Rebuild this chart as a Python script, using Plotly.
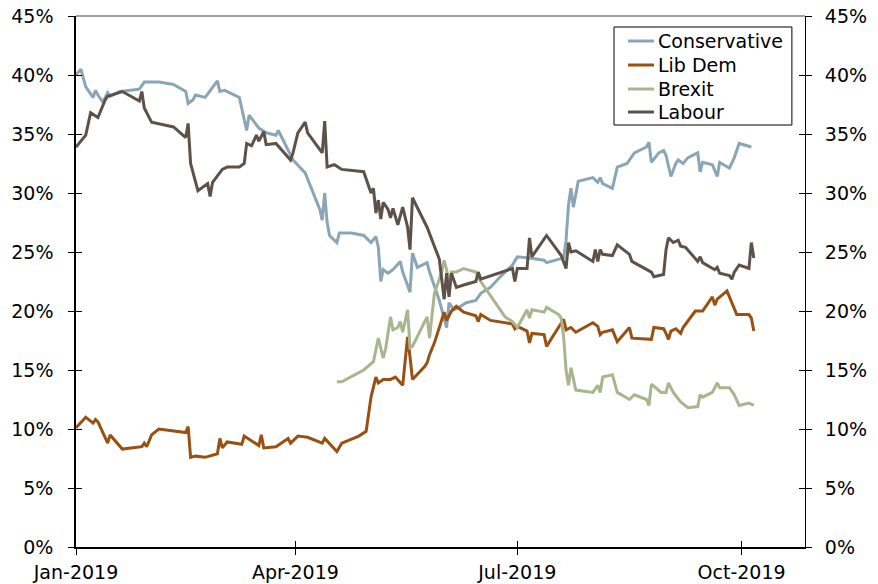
import pandas as pd
import plotly.graph_objects as go

START = "2019-01-01"

# day offsets from 1 Jan 2019, values in %
con_days = [0, 2, 4, 7, 8, 9, 11, 13, 14, 18, 26, 28, 34, 40, 45, 46, 48, 49, 53, 58, 59, 61, 67, 69, 70, 71, 75, 78, 82, 83,
            89, 94, 100, 101, 102, 103, 104, 107, 108, 113, 118, 121, 123, 124, 125, 126, 128, 130, 133, 134, 137, 138, 140,
            144, 145, 149, 152, 153, 155, 157, 160, 164, 166, 170, 174, 179, 181, 186, 192, 193, 200, 201, 202, 203, 204, 206,
            212, 214, 215, 216, 220, 222, 226, 229, 234, 235, 236, 239, 241, 242, 244, 246, 247, 249, 251, 255, 256, 257, 261,
            263, 264, 268, 270, 272, 277]
con_vals = [40.0, 40.5, 39.0, 38.1, 38.7, 38.3, 37.7, 38.5, 38.2, 38.6, 38.8, 39.4, 39.4, 39.2, 38.6, 37.6, 37.9, 38.3, 38.1,
            39.5, 38.6, 38.7, 38.1, 36.4, 35.3, 36.6, 35.5, 35.1, 34.9, 35.3,
            32.8, 31.7, 28.6, 27.7, 30.0, 27.5, 26.4, 25.8, 26.6, 26.6, 26.4, 25.8, 26.3, 25.4, 22.5, 23.5, 23.2, 23.5, 24.2,
            23.3, 21.6, 24.9, 23.7,
            24.1, 23.3, 20.9, 18.6, 20.7, 20.1, 20.3, 20.7, 20.9, 21.5, 22.0, 22.9, 23.9, 24.6, 24.5, 24.3, 24.1, 24.5, 26.0,
            29.0, 30.4, 28.8, 31.0,
            31.3, 30.9, 31.3, 30.8, 30.4, 32.2, 32.5, 33.4, 33.9, 34.3, 32.6, 33.4, 33.6, 33.2, 31.4, 32.5, 32.8, 32.5, 33.0,
            33.4, 31.8, 32.6, 32.4,
            31.4, 32.6, 32.1, 33.0, 34.2, 33.9]

ld_days = [0, 4, 7, 8, 9, 12, 13, 14, 19, 27, 28, 29, 31, 34, 45, 46, 47, 49, 53, 58, 59, 60, 62, 68, 69, 75, 76, 77, 82, 87,
           88, 91, 95, 101, 102, 107, 109, 116, 119, 121, 123, 124, 126, 129, 131, 134, 136, 137, 138, 143, 144, 145, 147,
           151, 152, 154, 156, 159, 164, 165, 166, 170, 179, 180, 181, 185, 186, 187, 192, 193, 200, 201, 203, 205,
           212, 214, 215, 216, 220, 222, 227, 228, 236, 237, 241, 242, 243, 244, 246, 248, 249, 254, 257, 261, 262, 263,
           267, 271, 276, 277, 278]
ld_vals = [10.1, 11.0, 10.5, 10.8, 10.6, 9.3, 8.8, 9.5, 8.3, 8.5, 8.8, 8.5, 9.5, 10.0, 9.7, 10.2, 7.6, 7.7, 7.6, 7.9, 9.2,
           8.4, 8.9, 8.7, 9.4, 8.6, 9.5, 8.4, 8.5, 9.2,
           8.8, 9.4, 9.3, 8.8, 9.2, 8.1, 8.8, 9.4, 9.8, 12.7, 14.4, 13.9, 14.2, 14.2, 14.4, 13.7, 17.8, 16.1, 14.2, 15.3,
           15.6, 16.3, 17.3,
           19.9, 19.2, 20.0, 20.4, 19.9, 19.6, 19.1, 19.7, 19.2, 18.9, 18.5, 18.7, 18.3, 17.3, 18.1, 18.0, 17.0, 19.3,
           18.4, 18.6, 18.2,
           19.0, 18.7, 18.0, 18.2, 18.4, 17.4, 18.6, 17.7, 17.6, 18.6, 18.5, 18.1, 17.6, 18.3, 18.5, 18.1, 18.6, 20.0,
           20.0, 21.2, 20.5, 21.0,
           21.7, 19.7, 19.7, 19.4, 18.3]

bx_days = [107, 109, 118, 122, 124, 125, 126, 127, 129, 130, 132, 133, 134, 136, 137, 138, 144, 145, 146, 147, 150, 151,
           152, 153, 154, 156, 159, 164, 166, 176, 179, 181, 185, 186, 187, 192, 193, 198, 199, 200, 201, 202, 203, 205,
           212, 214, 215, 216, 220, 222, 227, 229, 234, 235, 236, 240, 242, 243, 245, 248, 251, 255, 256, 257, 261,
           263, 264, 268, 270, 272, 276, 278]
bx_vals = [14.0, 14.0, 15.0, 15.7, 17.7, 16.9, 16.0, 16.8, 19.5, 18.4, 18.6, 19.1, 18.2, 20.1, 16.9, 17.0, 19.5, 17.7,
           19.8, 21.5, 23.3, 24.3,
           23.5, 22.5, 23.3, 23.3, 23.6, 23.3, 22.5, 19.5, 19.1, 18.6, 20.1, 19.4, 20.1, 19.9, 20.3, 19.7, 19.4, 17.8,
           15.0, 13.7, 15.2, 13.3,
           13.1, 13.7, 13.1, 14.4, 14.6, 13.1, 12.5, 12.9, 12.5, 12.0, 13.8, 13.1, 13.1, 13.9, 13.1, 12.3, 11.8, 11.9,
           12.9, 12.7, 13.1,
           13.9, 13.5, 13.5, 12.9, 12.0, 12.2, 12.0]

lab_days = [0, 4, 6, 9, 12, 13, 19, 26, 27, 28, 31, 40, 45, 46, 47, 50, 54, 55, 56, 60, 62, 67, 69, 70, 72, 74, 75, 77, 78,
            82, 88, 89, 91, 94, 95, 101, 102, 103, 106, 109, 118, 121, 122, 123, 124, 125, 126, 128, 129, 130, 132, 134,
            136, 137, 138, 144, 149, 151, 152, 153, 154, 156, 159, 164, 165, 166, 179, 180, 181, 185, 186, 187, 193,
            199, 201, 202, 203, 205, 212, 213, 214, 215, 216, 220, 222, 227, 228, 236, 237, 241, 242, 243, 245, 247,
            248, 250, 255, 256, 257, 262, 263, 264, 268, 269, 270, 272, 276, 277, 278]
lab_vals = [33.9, 34.9, 36.8, 36.4, 37.9, 38.2, 38.6, 37.8, 38.6, 37.2, 36.0, 35.6, 34.7, 35.9, 32.5, 30.2, 30.8, 29.7,
            30.9, 32.0, 32.2, 32.2, 32.5, 34.2, 34.0, 34.9, 34.4, 35.2, 34.1,
            34.2, 32.8, 33.4, 35.1, 36.0, 35.1, 33.4, 36.1, 32.2, 32.4, 32.0, 31.8, 30.0, 30.4, 28.3, 29.4, 27.8, 29.2,
            28.6, 27.9, 28.7, 27.3, 28.8,
            27.1, 25.2, 29.6, 27.1, 24.4, 21.0, 23.2, 21.2, 23.2, 22.0, 22.2, 22.5, 23.3, 22.7, 23.6, 22.5, 23.6, 23.6,
            26.2, 24.6, 26.4,
            24.7, 23.6, 25.8, 25.0, 25.1, 24.2, 25.2, 24.2, 25.2, 24.8, 24.7, 25.6, 24.8, 24.2, 23.3, 22.9, 23.1, 25.2,
            26.2, 25.8, 26.0,
            25.5, 25.4, 24.2, 24.6, 24.1, 23.5, 23.7, 23.2, 23.0, 22.7, 23.3, 23.9, 23.6, 25.8, 24.5]

tick_dates = ["2019-01-01", "2019-04-01", "2019-07-01", "2019-10-01"]
tick_text = ["Jan-2019", "Apr-2019", "Jul-2019", "Oct-2019"]
y_ticks = [0, 5, 10, 15, 20, 25, 30, 35, 40, 45]
y_text = [f"{v}%" for v in y_ticks]

series = [
    ("Conservative", con_days, con_vals, "#8AA5B6"),
    ("Lib Dem", ld_days, ld_vals, "#985112"),
    ("Brexit", bx_days, bx_vals, "#AAB48E"),
    ("Labour", lab_days, lab_vals, "#5E5147"),
]

t0 = pd.Timestamp(START)
fig = go.Figure()
for name, days, vals, col in series:
    dates = t0 + pd.to_timedelta(days, unit="D")
    fig.add_trace(go.Scatter(x=dates, y=vals, mode="lines", name=name,
                             line=dict(color=col, width=3), showlegend=False))

# empty helper traces so the overlay axes (crossing ticks, right labels) are rendered
for xa, ya in [("x2", "y"), ("x", "y2"), ("x", "y3"), ("x", "y4")]:
    fig.add_trace(go.Scatter(x=[], y=[], xaxis=xa, yaxis=ya, showlegend=False, hoverinfo="skip"))

FONT = "DejaVu Sans"
xr = ["2019-01-01", "2019-10-27"]
common_x = dict(type="date", range=xr, tickvals=tick_dates, ticktext=tick_text, automargin=False)
common_y = dict(range=[0, 45], tickvals=y_ticks, ticktext=y_text, showgrid=False, zeroline=False, automargin=False)

# manual legend (box, sample lines, labels) in paper coordinates
L_X0, L_X1, L_Y0, L_Y1 = 0.738, 0.982, 0.7947, 0.9793
row_y = [0.9529, 0.9077, 0.8625, 0.8192]
shapes = [dict(type="line", xref="paper", yref="paper", x0=0, x1=1, y0=1, y1=1,
               line=dict(color="#808080", width=1.5)),
          dict(type="rect", xref="paper", yref="paper", x0=L_X0, x1=L_X1, y0=L_Y0, y1=L_Y1,
               line=dict(color="#000000", width=1), fillcolor="white", layer="above")]
annotations = []
for (name, _, _, col), ry in zip(series, row_y):
    shapes.append(dict(type="line", xref="paper", yref="paper", x0=0.7572, x1=0.7929, y0=ry, y1=ry,
                       line=dict(color=col, width=3), layer="above"))
    annotations.append(dict(xref="paper", yref="paper", x=0.7950, y=ry, xanchor="left", yanchor="middle",
                            text=name, showarrow=False, font=dict(family=FONT, size=19, color="#000000")))

fig.update_layout(
    width=878, height=584,
    margin=dict(l=76, r=73, t=16, b=37),
    paper_bgcolor="white", plot_bgcolor="white",
    font=dict(family=FONT, size=19, color="#000000"),
    showlegend=False,
    xaxis=dict(**common_x, showgrid=False, zeroline=False, showline=True, linecolor="#000000", linewidth=1.5,
               ticks="outside", ticklen=6, tickcolor="#000000", tickwidth=1, ticklabelstandoff=1),
    xaxis2=dict(**common_x, overlaying="x", anchor="y", side="bottom", showgrid=False, zeroline=False,
                showline=False, ticks="inside", ticklen=6, tickcolor="#000000", tickwidth=1, showticklabels=False),
    yaxis=dict(**common_y, showline=True, linecolor="#000000", linewidth=1.5,
               ticks="outside", ticklen=6, tickcolor="#000000", tickwidth=1, ticklabelstandoff=11),
    yaxis2=dict(**common_y, overlaying="y", side="right", anchor="x", showline=True,
                linecolor="#000000", linewidth=1, ticks="outside", ticklen=6, tickcolor="#000000", tickwidth=1,
                ticklabelstandoff=9),
    yaxis3=dict(**common_y, overlaying="y", side="left", anchor="x", showline=False,
                ticks="inside", ticklen=6, tickcolor="#000000", tickwidth=1, showticklabels=False),
    yaxis4=dict(**common_y, overlaying="y", side="right", anchor="x", showline=False,
                ticks="inside", ticklen=6, tickcolor="#000000", tickwidth=1, showticklabels=False),
    shapes=shapes,
    annotations=annotations,
)

fig.write_html("out.html")
